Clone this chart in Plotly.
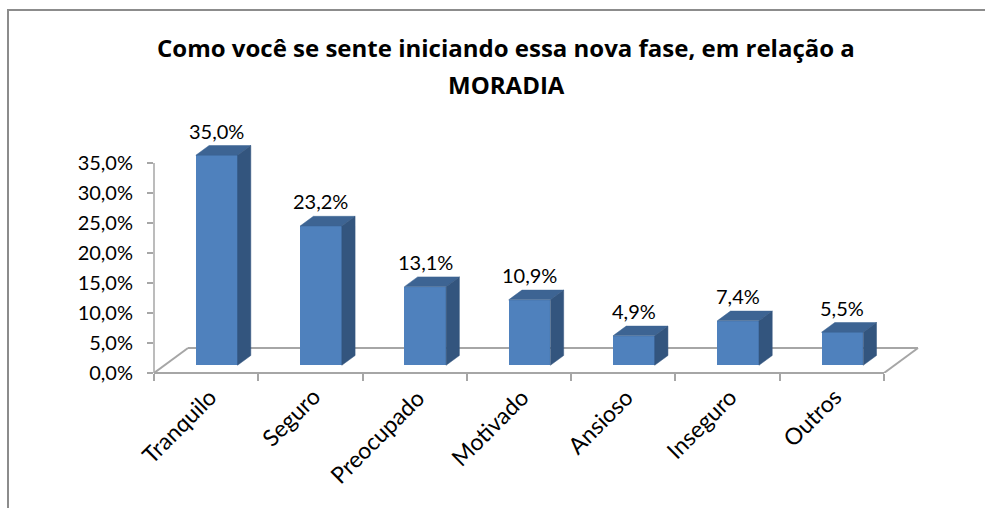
import plotly.graph_objects as go

# ---------------- data ----------------
categories = ["Tranquilo", "Seguro", "Preocupado", "Motivado", "Ansioso", "Inseguro", "Outros"]
values = [35.0, 23.2, 13.1, 10.9, 4.9, 7.4, 5.5]
value_labels = ["35,0%", "23,2%", "13,1%", "10,9%", "4,9%", "7,4%", "5,5%"]
y_tick_vals = [0, 5, 10, 15, 20, 25, 30, 35]
y_tick_text = ["0,0%", "5,0%", "10,0%", "15,0%", "20,0%", "25,0%", "30,0%", "35,0%"]
title_lines = ["Como você se sente iniciando essa nova fase, em relação a", "MORADIA"]

# ---------------- layout geometry ----------------
W, H = 985, 508
ML, MR, MT, MB = 154, 50, 110, 135
plot_w = W - ML - MR
plot_h = H - MT - MB
n = len(categories)
PX_PER_CAT = 730 / n
PX_PER_PCT = 6.0
x_max = plot_w / PX_PER_CAT
y_max = plot_h / PX_PER_PCT
DX = 34 / PX_PER_CAT      # floor depth, category units
DY = 25 / PX_PER_PCT      # floor depth, percent units
D0, D1 = 0.31, 0.70       # bar depth (front / back) as fraction of floor depth
BW = 0.40                 # bar width, category units

FONT = "Lato, 'Open Sans', sans-serif"
TITLE_FONT = "'Open Sans', Lato, sans-serif"
GRID = "#a6a6a6"
FRONT = "#4f81bd"
TOP = "#3d6493"
SIDE = "#33557e"

def px_to_paper_y(py):
    return (H - MB - py) / plot_h

def px_to_paper_x(px):
    return (px - ML) / plot_w

fig = go.Figure()

centers = [i + 0.5 for i in range(n)]
front_x = [c + D0 * DX for c in centers]
base0 = D0 * DY
dd = D1 - D0

fig.add_trace(go.Bar(
    x=front_x, y=values, base=base0, width=BW,
    marker=dict(color=FRONT, line=dict(width=0)),
    hoverinfo="skip", showlegend=False,
))

shapes = []
# floor (below bars)
shapes.append(dict(type="line", xref="x", yref="y", x0=0, y0=0, x1=DX, y1=DY,
                   line=dict(color=GRID, width=2), layer="below"))
shapes.append(dict(type="line", xref="x", yref="y", x0=DX, y0=DY, x1=n + DX, y1=DY,
                   line=dict(color=GRID, width=2), layer="below"))
shapes.append(dict(type="line", xref="x", yref="y", x0=n, y0=0, x1=n + DX, y1=DY,
                   line=dict(color=GRID, width=2), layer="below"))
# front edge of floor
shapes.append(dict(type="line", xref="x", yref="paper", x0=0, y0=0, x1=n, y1=0,
                   line=dict(color=GRID, width=2)))
# vertical value axis
shapes.append(dict(type="line", xref="paper", yref="y", x0=0, y0=0, x1=0, y1=max(y_tick_vals),
                   line=dict(color=GRID, width=1.5)))

# 3D faces of bars
for fx, v in zip(front_x, values):
    xl, xr = fx - BW / 2, fx + BW / 2
    yb, yt = base0, base0 + v
    ox, oy = dd * DX, dd * DY
    top_path = f"M{xl},{yt} L{xr},{yt} L{xr+ox},{yt+oy} L{xl+ox},{yt+oy} Z"
    side_path = f"M{xr},{yb} L{xr},{yt} L{xr+ox},{yt+oy} L{xr+ox},{yb+oy} Z"
    shapes.append(dict(type="path", xref="x", yref="y", path=top_path,
                       fillcolor=TOP, line=dict(color=TOP, width=0.5)))
    shapes.append(dict(type="path", xref="x", yref="y", path=side_path,
                       fillcolor=SIDE, line=dict(color=SIDE, width=0.5)))

# chart border (left and top, as in the reference crop)
shapes.append(dict(type="line", xref="paper", yref="paper",
                   x0=px_to_paper_x(8), y0=px_to_paper_y(10), x1=px_to_paper_x(8), y1=px_to_paper_y(520),
                   line=dict(color="#8c8c8c", width=2)))
shapes.append(dict(type="line", xref="paper", yref="paper",
                   x0=px_to_paper_x(7), y0=px_to_paper_y(10), x1=px_to_paper_x(990), y1=px_to_paper_y(10),
                   line=dict(color="#8c8c8c", width=2)))

annotations = []
# data labels
for fx, v, t in zip(front_x, values, value_labels):
    annotations.append(dict(x=fx, y=v + D1 * DY, xref="x", yref="y", text=t,
                            showarrow=False, xanchor="center", yanchor="bottom", yshift=1,
                            font=dict(family=FONT, size=20, color="black")))
# category labels
for c, name in zip(centers, categories):
    annotations.append(dict(x=c + 0.17, y=px_to_paper_y(380), xref="x", yref="paper", text=name,
                            showarrow=False, textangle=-45, xanchor="right", yanchor="top",
                            font=dict(family=FONT, size=23, color="black")))
# title (two lines, Excel-like spacing)
for line_text, py in zip(title_lines, [48, 85]):
    annotations.append(dict(x=px_to_paper_x(506), y=px_to_paper_y(py), xref="paper", yref="paper",
                            text=f"<b>{line_text}</b>", showarrow=False,
                            xanchor="center", yanchor="middle",
                            font=dict(family=TITLE_FONT, size=24, color="black")))

fig.update_layout(
    width=W, height=H,
    margin=dict(l=ML, r=MR, t=MT, b=MB, pad=0),
    paper_bgcolor="white", plot_bgcolor="white",
    showlegend=False,
    xaxis=dict(range=[0, x_max], type="linear", showgrid=False, zeroline=False, showline=False,
               tickmode="array", tickvals=list(range(n + 1)), showticklabels=False,
               ticks="outside", ticklen=7, tickwidth=1.5, tickcolor=GRID, fixedrange=True),
    yaxis=dict(range=[0, y_max], showgrid=False, zeroline=False, showline=False,
               tickmode="array", tickvals=y_tick_vals, ticktext=y_tick_text,
               ticks="outside", ticklen=6, tickwidth=1.5, tickcolor=GRID,
               ticklabelstandoff=10,
               tickfont=dict(family=FONT, size=20, color="black"), fixedrange=True),
    shapes=shapes,
    annotations=annotations,
    bargap=0,
)

fig.write_html("out.html", config={"displayModeBar": False},
               post_script="document.body.style.margin='0';document.body.style.overflow='hidden';")
